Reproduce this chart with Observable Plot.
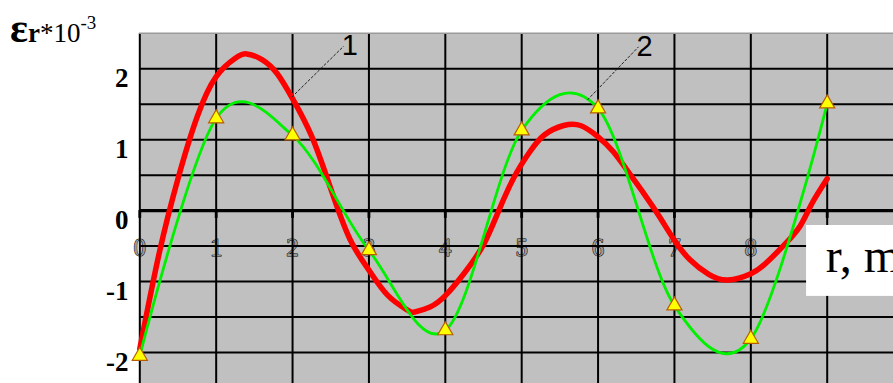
<!DOCTYPE html>
<html>
<head>
<meta charset="utf-8">
<script src="https://cdn.jsdelivr.net/npm/d3@7"></script>
<script src="https://cdn.jsdelivr.net/npm/@observablehq/plot@0.6"></script>
<style>
  html, body { margin: 0; padding: 0; background: white; overflow: hidden; }
  #chart svg { display: block; }
</style>
</head>
<body>
<div id="chart"></div>
<script>
// ---- data ----
const xValues = [0, 1, 2, 3, 4, 5, 6, 7, 8, 9];
const series2 = [-2.05, 1.30, 1.06, -0.56, -1.69, 1.13, 1.44, -1.34, -1.81, 1.51];

const series1X = [0, 0.25, 0.5, 0.75, 1, 1.25, 1.4, 1.6, 1.8, 2, 2.25, 2.5, 2.75, 3, 3.25, 3.5, 3.6, 3.8, 4, 4.25, 4.5, 4.7, 4.9, 5.1, 5.3, 5.55, 5.77, 6, 6.2, 6.4, 6.6, 6.8, 7, 7.2, 7.45, 7.7, 8, 8.2, 8.45, 8.65, 8.8, 9];
const series1Y = [-1.95, -0.62, 0.45, 1.32, 1.89, 2.15, 2.21, 2.13, 1.93, 1.58, 1.05, 0.31, -0.40, -0.84, -1.20, -1.40, -1.43, -1.36, -1.20, -0.88, -0.48, 0.0, 0.47, 0.82, 1.07, 1.20, 1.20, 1.04, 0.83, 0.54, 0.24, -0.08, -0.42, -0.69, -0.90, -0.98, -0.89, -0.74, -0.47, -0.21, 0.10, 0.45];

const yTickValues = [-2, -1, 0, 1, 2];
const yGridValues = [-2, -1.5, -1, -0.5, 0, 0.5, 1, 1.5, 2];
// x tick labels visible in the original (the one at 9 sits under the axis-title box)
const xTickValues = [0, 1, 2, 3, 4, 5, 6, 7, 8];
const xTickLabels = ["0", "1", "2", "3", "4", "5", "6", "7", "8"];

const calloutLabels = ["1", "2"];
const calloutFromX = [1.99, 5.86];
const calloutFromY = [1.60, 1.56];
const calloutToX = [2.67, 6.53];
const calloutToY = [2.32, 2.31];

const xAxisTitle = "r, m";
const yAxisSymbol = "εr";
const yAxisFactor = "*10";
const yAxisExponent = "-3";

// ---- tables ----
const series1 = series1X.map((x, i) => ({x, y: series1Y[i]}));
const series2Data = xValues.map((x, i) => ({x, y: series2[i]}));
const callouts = calloutLabels.map((t, i) => ({t, x1: calloutFromX[i], y1: calloutFromY[i], x2: calloutToX[i], y2: calloutToY[i]}));
const xLabels = xTickLabels.map((t, i) => ({t, x: xTickValues[i]}));

const serif = "'Liberation Serif', 'Times New Roman', serif";
const sans = "'Liberation Sans', Arial, sans-serif";

const svg = Plot.plot({
  width: 893,
  height: 383,
  marginLeft: 139,
  marginRight: 0,
  marginTop: 33,
  marginBottom: 0,
  x: {domain: [0, 9], range: [139.3, 826.7], axis: null},
  y: {domain: [-2, 2], range: [351.9, 68.3], axis: null},
  style: {background: "white", overflow: "hidden"},
  marks: [
    Plot.frame({fill: "#c0c0c0", stroke: null}),
    // x tick labels (drawn under the grid, as in the original)
    Plot.text(xLabels, {x: "x", y: -0.53, text: "t", fontFamily: serif, fontSize: 25, fill: "#9a9a9a", stroke: "#000", strokeWidth: 1, lineAnchor: "middle", textAnchor: "middle"}),
    // grid
    Plot.ruleY(yGridValues, {y: d => d, stroke: "#000", strokeWidth: 2}),
    Plot.ruleX(xValues, {x: d => d, stroke: "#000", strokeWidth: 2}),
    Plot.ruleY([2.5], {y: d => d, stroke: "#9a9a9a", strokeWidth: 1.5}),
    Plot.ruleY([0], {y: d => d, stroke: "#000", strokeWidth: 3.3}),
    Plot.ruleX(xValues, {x: d => d, y1: 0, y2: -0.11, stroke: "#000", strokeWidth: 2.8}),
    // y tick labels
    Plot.text(yTickValues, {y: d => d, text: d => String(d), frameAnchor: "left", textAnchor: "end", dx: -11, dy: 10, fontFamily: serif, fontWeight: "bold", fontSize: 27, fill: "#000"}),
    // series
    Plot.line(series1, {x: "x", y: "y", stroke: "#ff0000", strokeWidth: 5.5, curve: "natural"}),
    Plot.line(series2Data, {x: "x", y: "y", stroke: "#00f000", strokeWidth: 2.8, curve: "cardinal"}),
    Plot.dot(series2Data, {x: "x", y: "y", symbol: "triangle", r: 5.6, fill: "#ffff00", stroke: "#b85c00", strokeWidth: 1.2}),
    // callouts
    Plot.link(callouts, {x1: "x1", y1: "y1", x2: "x2", y2: "y2", stroke: "#222", strokeWidth: 1, strokeDasharray: "3,1.5"}),
    Plot.text(callouts, {x: "x2", y: "y2", text: "t", textAnchor: "start", lineAnchor: "middle", dx: -2, fontFamily: sans, fontSize: 29, fill: "#000"}),
    // x axis title box
    Plot.rect([xAxisTitle], {x1: 8.73, x2: 10.5, y1: -0.21, y2: -1.21, fill: "white"}),
    Plot.text([xAxisTitle], {x: 8.98, y: -0.65, text: d => d, textAnchor: "start", lineAnchor: "middle", fontFamily: serif, fontSize: 48, fill: "#000"})
  ]
});

// y axis title with superscript
const t = d3.select(svg).append("text")
  .attr("x", 10).attr("y", 42)
  .attr("text-anchor", "start")
  .attr("font-family", serif).attr("font-size", 27).attr("fill", "#000");
t.append("tspan").attr("font-size", 42).attr("font-weight", "bold").text(yAxisSymbol.slice(0, 1));
t.append("tspan").attr("font-weight", "bold").text(yAxisSymbol.slice(1));
t.append("tspan").text(yAxisFactor);
t.append("tspan").attr("font-size", 19).attr("dy", -13).text(yAxisExponent);

document.getElementById("chart").appendChild(svg);
</script>
</body>
</html>
